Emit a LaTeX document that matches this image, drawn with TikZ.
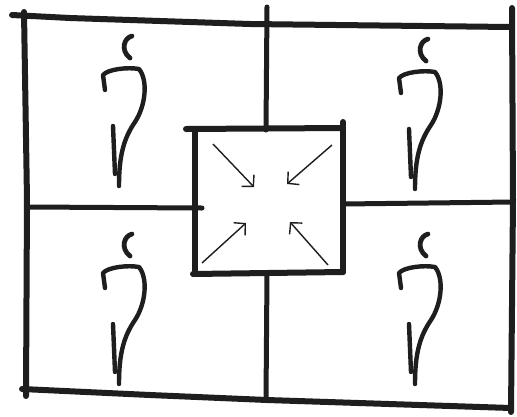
\documentclass[tikz,border=0pt]{standalone}
\usetikzlibrary{arrows.meta}
\definecolor{ink}{HTML}{1E1E1E}
\begin{document}
\begin{tikzpicture}[x=1pt,y=-1pt,
  frame/.style={line width=6pt, line cap=round, line join=round, draw=ink},
  wall/.style={line width=5pt, line cap=round, line join=round, draw=ink},
  inarrow/.style={draw=ink, line width=1.4pt, -{Straight Barb[length=8pt,width=17pt,line width=1.4pt]}},
  penstroke/.style={draw=ink, line width=4.4pt, line cap=round, line join=round},
  sketchfig/.pic={
    \draw[penstroke, line width=4.8pt] (132,36) .. controls (124,38) and (120,50) .. (130,58);
    \draw[penstroke] (105,90) -- (103,75) .. controls (108,69) and (128,67) .. (139,69)
      .. controls (148,80) and (146,105) .. (135,122)
      .. controls (124,138) and (119,155) .. (119,186);
    \draw[penstroke] (113,126) -- (115,174);
  }]
\useasboundingbox (0,0) rectangle (517,416);
\fill[white] (0,0) rectangle (517,416);
% outer frame
\draw[frame] (12,15) -- (70,18) -- (250,24) -- (510,27);
\draw[frame] (24,12) -- (27,200) -- (26,396);
\draw[frame] (512,8) -- (513,200) -- (511,412);
\draw[frame] (22,389) -- (150,395) -- (267,400) -- (511,408);
% inner walls
\draw[wall] (267,7) -- (266,130);
\draw[wall] (267,273) -- (266,400);
\draw[wall] (27,207) -- (202,208);
\draw[wall] (343,204) -- (513,202);
% central square
\draw[frame] (186,129) -- (343,128);
\draw[frame] (343,122) -- (343,272);
\draw[frame] (195,130) -- (195,273);
\draw[frame] (193,274) -- (343,272);
% arrows pointing inward
\coordinate (tl0) at (213,144); \coordinate (tl1) at (254,187);
\coordinate (tr0) at (332,145); \coordinate (tr1) at (287,184);
\coordinate (bl0) at (202,263); \coordinate (bl1) at (246,223);
\coordinate (br0) at (328,265); \coordinate (br1) at (290,222);
\draw[inarrow] (tl0) -- (tl1);
\draw[inarrow] (tr0) -- (tr1);
\draw[inarrow] (bl0) -- (bl1);
\draw[inarrow] (br0) -- (br1);
% figures
\pic (f1) at (0,0) {sketchfig};
\pic (f2) at (296,3) {sketchfig};
\pic (f3) at (0,198) {sketchfig};
\pic (f4) at (296,198) {sketchfig};
\end{tikzpicture}
\end{document}
